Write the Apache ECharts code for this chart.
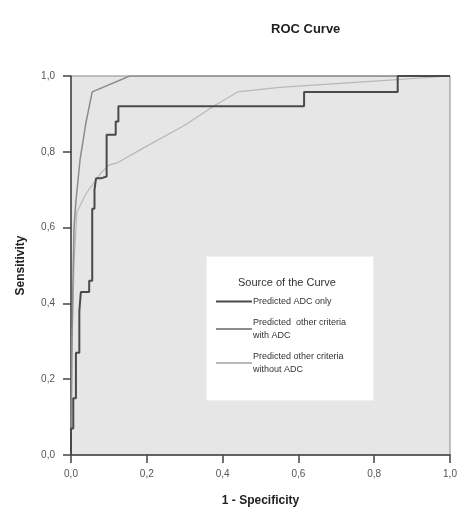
<!DOCTYPE html>
<html>
<head>
<meta charset="utf-8">
<script src="https://cdn.jsdelivr.net/npm/echarts@6/dist/echarts.min.js"></script>
<style>
  html, body { margin: 0; padding: 0; background: #fff; }
  #main { width: 458px; height: 507px; }
</style>
</head>
<body>
<div id="main"></div>
<script>
  // curve names (legend)
  var seriesNames = ['Predicted ADC only', 'Predicted  other criteria\nwith ADC', 'Predicted other criteria\nwithout ADC'];
  var seriesColors = ['#4a4a4a', '#8c8c8c', '#b8b8b8'];

  // Predicted ADC only (step curve)
  var adcOnlyX = [0, 0, 0.006, 0.006, 0.013, 0.013, 0.022, 0.022, 0.026, 0.026, 0.048, 0.048, 0.056, 0.056, 0.062, 0.062, 0.066, 0.066, 0.079, 0.079, 0.094, 0.094, 0.118, 0.118, 0.125, 0.125, 0.615, 0.615, 0.862, 0.862, 1.0];
  var adcOnlyY = [0, 0.07, 0.07, 0.15, 0.15, 0.27, 0.27, 0.38, 0.38, 0.43, 0.43, 0.46, 0.46, 0.65, 0.65, 0.70, 0.70, 0.73, 0.73, 0.735, 0.735, 0.845, 0.845, 0.88, 0.88, 0.92, 0.92, 0.958, 0.958, 1.0, 1.0];

  // Predicted other criteria with ADC
  var withAdcX = [0, 0.002, 0.005, 0.008, 0.013, 0.024, 0.04, 0.056, 0.155, 1.0];
  var withAdcY = [0, 0.25, 0.45, 0.6, 0.67, 0.78, 0.88, 0.958, 1.0, 1.0];

  // Predicted other criteria without ADC
  var withoutAdcX = [0, 0.003, 0.008, 0.015, 0.04, 0.08, 0.1, 0.12, 0.2, 0.3, 0.38, 0.44, 0.55, 0.7, 0.85, 1.0];
  var withoutAdcY = [0, 0.3, 0.5, 0.64, 0.69, 0.745, 0.765, 0.77, 0.815, 0.87, 0.923, 0.958, 0.97, 0.98, 0.99, 1.0];

  function pairs(xs, ys) {
    var out = [];
    for (var i = 0; i < xs.length; i++) {
      out.push([xs[i], ys[i]]);
    }
    return out;
  }

  function fmt(v) {
    return v.toFixed(1).replace('.', ',');
  }

  var lblFont = { fontFamily: 'Liberation Sans', fontSize: 10, color: '#555' };
  var nameFont = { fontFamily: 'Liberation Sans', fontSize: 12, fontWeight: 'bold', color: '#222' };

  var chart = echarts.init(document.getElementById('main'));
  chart.setOption({
    animation: false,
    title: {
      text: 'ROC Curve',
      left: 266,
      top: 18,
      textStyle: { fontFamily: 'Liberation Sans', fontSize: 13, fontWeight: 'bold', color: '#222' }
    },
    grid: {
      left: 71,
      right: 8,
      top: 76,
      bottom: 52,
      outerBoundsMode: 'none',
      show: true,
      backgroundColor: '#e6e6e6',
      borderColor: '#8a8a8a',
      borderWidth: 1
    },
    xAxis: {
      type: 'value',
      min: 0,
      max: 1,
      interval: 0.2,
      name: '1 - Specificity',
      nameLocation: 'middle',
      nameGap: 40,
      nameTextStyle: nameFont,
      splitLine: { show: false },
      axisLine: { lineStyle: { color: '#444', width: 1.5 } },
      axisTick: { length: 8, lineStyle: { color: '#444', width: 1.5 } },
      axisLabel: Object.assign({ formatter: fmt, margin: 14 }, lblFont)
    },
    yAxis: {
      type: 'value',
      min: 0,
      max: 1,
      interval: 0.2,
      name: 'Sensitivity',
      nameLocation: 'middle',
      nameGap: 44,
      nameTextStyle: nameFont,
      splitLine: { show: false },
      axisLine: { lineStyle: { color: '#444', width: 1.5 } },
      axisTick: { length: 8, lineStyle: { color: '#444', width: 1.5 } },
      axisLabel: Object.assign({ formatter: fmt, margin: 16 }, lblFont)
    },
    graphic: [
      {
        type: 'rect',
        left: 206,
        top: 256,
        shape: { width: 167, height: 144 },
        style: { fill: '#ffffff', stroke: '#f0f0f0' },
        z: 5
      },
      {
        type: 'text',
        left: 238,
        top: 277,
        style: { text: 'Source of the Curve', fontFamily: 'Liberation Sans', fontSize: 11, fill: '#333' },
        z: 6
      }
    ],
    legend: {
      orient: 'vertical',
      left: 216,
      top: 295,
      padding: 0,
      itemGap: 8,
      itemWidth: 36,
      itemHeight: 12,
      z: 10,
      selectedMode: false,
      icon: 'path://M0,5 L36,5 L36,7 L0,7 Z',
      textStyle: { fontFamily: 'Liberation Sans', fontSize: 9, color: '#333', lineHeight: 13, padding: [0, 0, 0, -4] },
      data: seriesNames
    },
    series: [
      {
        name: seriesNames[0],
        type: 'line',
        symbol: 'none',
        data: pairs(adcOnlyX, adcOnlyY),
        lineStyle: { color: seriesColors[0], width: 2 },
        itemStyle: { color: seriesColors[0] },
        z: 4
      },
      {
        name: seriesNames[1],
        type: 'line',
        symbol: 'none',
        data: pairs(withAdcX, withAdcY),
        lineStyle: { color: seriesColors[1], width: 1.5 },
        itemStyle: { color: seriesColors[1] },
        z: 3
      },
      {
        name: seriesNames[2],
        type: 'line',
        symbol: 'none',
        data: pairs(withoutAdcX, withoutAdcY),
        lineStyle: { color: seriesColors[2], width: 1.2 },
        itemStyle: { color: seriesColors[2] },
        z: 2
      }
    ]
  });
</script>
</body>
</html>
